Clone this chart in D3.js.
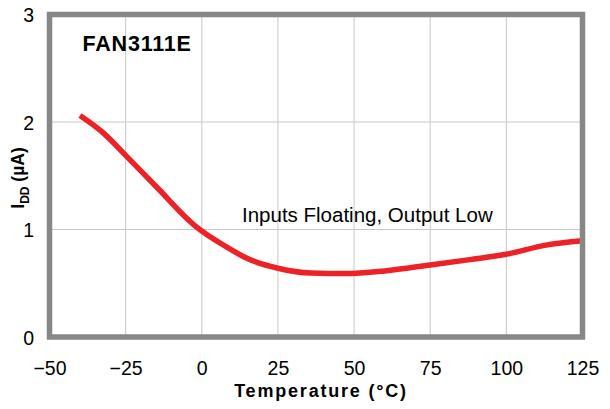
<!DOCTYPE html>
<html>
<head>
<meta charset="utf-8">
<script src="https://cdn.jsdelivr.net/npm/d3@7"></script>
<style>
  html, body { margin: 0; padding: 0; background: #fff; }
  svg { display: block; }
  text { font-family: Arial, "Liberation Sans", sans-serif; }
</style>
</head>
<body>
<svg id="chart" width="610" height="409"></svg>
<script>
const temperature = [-40, -32, -25, -15, -2, 8, 15, 25, 36, 47, 60, 75, 88, 100, 113, 125];
const iddMicroAmps = [2.06, 1.89, 1.69, 1.40, 1.03, 0.84, 0.73, 0.64, 0.595, 0.59, 0.615, 0.67, 0.72, 0.77, 0.855, 0.895];
const xTicks = [-50, -25, 0, 25, 50, 75, 100, 125];
const yTicks = [0, 1, 2, 3];
const chartTitle = "FAN3111E";
const annotation = "Inputs Floating, Output Low";

const svg = d3.select("#chart");
const pLeft = 49.5, pRight = 582.5, pTop = 14.5, pBottom = 337;

const x = d3.scaleLinear().domain([-50, 125]).range([pLeft, pRight]);
const y = d3.scaleLinear().domain([0, 3]).range([pBottom, pTop]);

// grid
const grid = svg.append("g");
grid.selectAll("line.v").data(xTicks.slice(1, -1)).join("line")
  .attr("class", "v")
  .attr("x1", d => x(d)).attr("x2", d => x(d))
  .attr("y1", pTop).attr("y2", pBottom)
  .attr("stroke", "#c8c8c8").attr("stroke-width", 1);
grid.selectAll("line.h").data(yTicks.slice(1, -1)).join("line")
  .attr("class", "h")
  .attr("x1", pLeft).attr("x2", pRight)
  .attr("y1", d => y(d)).attr("y2", d => y(d))
  .attr("stroke", "#c8c8c8").attr("stroke-width", 1);

// x axis labels
const xAxis = d3.axisBottom(x).tickValues(xTicks).tickSize(0).tickPadding(0).tickFormat(d3.format("d"));
const gx = svg.append("g").attr("transform", `translate(0,${pBottom})`).call(xAxis);
gx.select(".domain").remove();
gx.selectAll("text").attr("font-size", 19.5).attr("fill", "#000")
  .attr("font-family", "Arial, 'Liberation Sans', sans-serif")
  .attr("dy", null).attr("y", 37.5);

// y axis labels
const yAxis = d3.axisLeft(y).tickValues(yTicks).tickSize(0).tickPadding(0).tickFormat(d3.format("d"));
const gy = svg.append("g").attr("transform", `translate(34,0)`).call(yAxis);
gy.select(".domain").remove();
gy.selectAll("text").attr("font-size", 19.5).attr("fill", "#000")
  .attr("font-family", "Arial, 'Liberation Sans', sans-serif")
  .attr("x", 0).attr("dy", "0.36em");

// data line
const line = d3.line()
  .x((d, i) => x(temperature[i]))
  .y(d => y(d))
  .curve(d3.curveMonotoneX);
svg.append("path").datum(iddMicroAmps)
  .attr("d", line)
  .attr("fill", "none")
  .attr("stroke", "#ec2227")
  .attr("stroke-width", 5.5)
  .attr("stroke-linejoin", "round");

// frame
svg.append("rect")
  .attr("x", pLeft).attr("y", pTop)
  .attr("width", pRight - pLeft).attr("height", pBottom - pTop)
  .attr("fill", "none").attr("stroke", "#878787").attr("stroke-width", 5.5);

// title
svg.append("text").attr("x", 82.5).attr("y", 51)
  .attr("font-size", 21.5).attr("font-weight", "bold").attr("fill", "#000")
  .attr("letter-spacing", 0.8)
  .text(chartTitle);

// annotation
svg.append("text").attr("x", 242).attr("y", 221.5)
  .attr("font-size", 20.5).attr("fill", "#000")
  .text(annotation);

// x title
svg.append("text").attr("x", 321).attr("y", 397)
  .attr("text-anchor", "middle")
  .attr("font-size", 18).attr("font-weight", "bold").attr("fill", "#000")
  .attr("letter-spacing", 1.8)
  .text("Temperature (°C)");

// y title
const yt = svg.append("text")
  .attr("transform", "translate(23.5,178) rotate(-90)")
  .attr("text-anchor", "middle")
  .attr("font-size", 17.5).attr("font-weight", "bold").attr("fill", "#000");
yt.append("tspan").text("I");
yt.append("tspan").attr("font-size", 12).attr("dy", 5).text("DD");
yt.append("tspan").attr("dy", -5).text(" (µA)");
</script>
</body>
</html>
